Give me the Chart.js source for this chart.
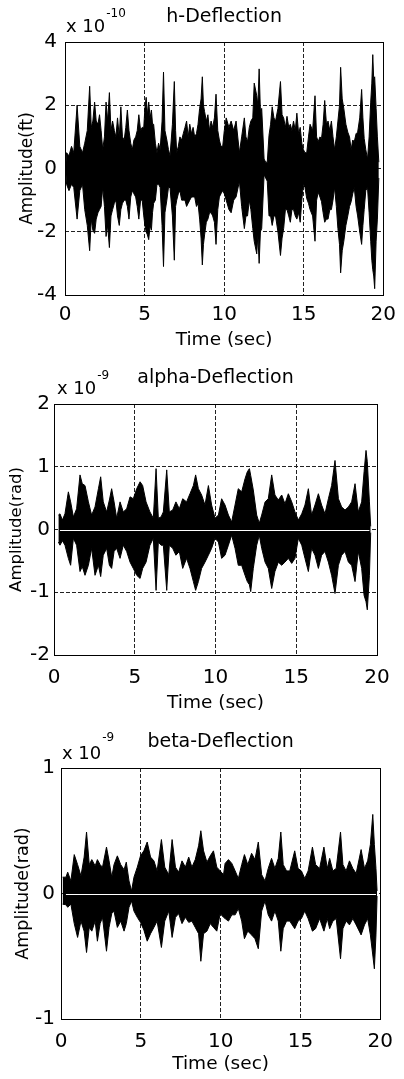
<!DOCTYPE html>
<html>
<head>
<meta charset="utf-8">
<script src="https://cdn.jsdelivr.net/npm/chart.js@4.4.1/dist/chart.umd.min.js"></script>
<style>
  html, body { margin: 0; padding: 0; background: #fff; }
  body { width: 404px; height: 1079px; position: relative; overflow: hidden; }
  canvas { position: absolute; left: 0; }
</style>
</head>
<body>
<canvas id="hChart" width="404" height="355" style="top:0px"></canvas>
<canvas id="alphaChart" width="404" height="360" style="top:355px"></canvas>
<canvas id="betaChart" width="404" height="364" style="top:715px"></canvas>
<script>
// Shared tick values
const xTicks = [0, 5, 10, 15, 20];
const hTicks = [-4, -2, 0, 2, 4];
const alphaTicks = [-2, -1, 0, 1, 2];
const betaTicks = [-1, 0, 1];

// h-Deflection envelope (x 1e-10 ft)
const hTime = [0.05, 0.10, 0.25, 0.41, 0.55, 0.76, 0.93, 1.10, 1.24, 1.40, 1.55, 1.65, 1.75, 1.86, 1.96, 2.07, 2.17, 2.27, 2.37, 2.48,
  2.58, 2.68, 2.79, 2.89, 2.99, 3.10, 3.20, 3.30, 3.41, 3.51, 3.61, 3.72, 3.82, 3.92, 4.02, 4.13, 4.23, 4.33, 4.44, 4.54,
  4.64, 4.75, 4.85, 4.95, 5.02, 5.10, 5.18, 5.26, 5.35, 5.43, 5.50, 5.57, 5.68, 5.78, 5.88, 5.98, 6.10, 6.19, 6.28, 6.40,
  6.50, 6.60, 6.75, 6.87, 6.95, 7.02, 7.12, 7.22, 7.33, 7.43, 7.54, 7.64, 7.74, 7.84, 7.95, 8.05, 8.15, 8.26, 8.36, 8.46,
  8.55, 8.63, 8.70, 8.77, 8.88, 8.98, 9.08, 9.18, 9.28, 9.39, 9.49, 9.60, 9.70, 9.80, 9.91, 10.01, 10.13, 10.30, 10.44, 10.60,
  10.75, 10.96, 11.10, 11.27, 11.37, 11.47, 11.58, 11.68, 11.80, 11.89, 12.05, 12.12, 12.20, 12.28, 12.36, 12.51, 12.61, 12.71, 12.82, 12.92,
  13.02, 13.13, 13.23, 13.38, 13.54, 13.64, 13.74, 13.85, 13.95, 14.06, 14.16, 14.26, 14.36, 14.47, 14.57, 14.68, 14.78, 14.88, 14.98, 15.08,
  15.19, 15.30, 15.40, 15.56, 15.71, 15.81, 15.91, 16.02, 16.12, 16.22, 16.32, 16.43, 16.53, 16.64, 16.74, 16.84, 16.94, 17.05, 17.15, 17.25,
  17.32, 17.42, 17.52, 17.65, 17.77, 17.88, 17.98, 18.08, 18.18, 18.29, 18.39, 18.52, 18.64, 18.72, 18.80, 18.90, 19.01, 19.11, 19.21, 19.28,
  19.34, 19.40, 19.46, 19.55, 19.63, 19.72];
const hUpper = [0.1, 0.5, 0.4, 0.7, 0.5, 2.0, 0.7, 0.5, 0.8, 1.2, 2.6, 1.3, 1.5, 2.1, 1.5, 1.4, 1.7, 1.2, 0.6, 1.0,
  2.1, 1.5, 2.4, 1.2, 1.5, 1.2, 1.0, 1.6, 1.0, 1.95, 1.0, 0.9, 1.3, 1.85, 1.2, 0.8, 0.6, 0.9, 1.0, 1.2,
  1.7, 1.2, 1.3, 1.3, 1.9, 2.25, 1.7, 2.1, 1.6, 1.85, 1.4, 1.4, 0.8, 0.5, 0.8, 0.6, 1.5, 3.05, 1.2, 0.9,
  0.6, 0.4, 1.4, 2.75, 1.2, 0.5, 0.7, 1.0, 0.9, 1.1, 1.3, 1.5, 1.0, 1.4, 1.1, 1.3, 1.0, 1.1, 1.4, 1.9,
  2.2, 2.9, 2.0, 1.8, 1.5, 1.7, 1.2, 1.5, 1.3, 1.6, 2.35, 1.2, 0.9, 0.7, 0.7, 1.2, 1.6, 1.3, 1.5, 1.2,
  1.5, 0.5, 1.0, 1.6, 1.0, 0.85, 1.3, 1.5, 1.6, 2.7, 2.3, 2.0, 3.15, 1.8, 1.9, 0.3, 0.2, 0.2, 1.05, 1.4,
  1.95, 1.6, 1.5, 1.9, 2.75, 1.7, 1.6, 1.3, 1.65, 1.3, 1.4, 1.2, 1.5, 1.2, 1.75, 1.1, 1.3, 0.8, 0.6, 0.5,
  0.5, 1.0, 1.4, 1.2, 2.3, 1.0, 0.85, 1.0, 0.95, 1.4, 2.15, 1.4, 1.5, 1.2, 1.5, 1.0, 0.6, 1.0, 1.5, 2.0,
  3.2, 2.2, 1.9, 1.4, 1.15, 1.0, 0.6, 0.9, 0.85, 1.1, 1.15, 1.6, 2.5, 1.6, 0.95, 0.6, 0.3, 1.0, 2.1, 2.7,
  3.6, 2.8, 2.9, 1.9, 1.0, 0.2];
const hLower = [-0.1, -0.5, -0.7, -0.5, -0.6, -1.6, -0.7, -0.5, -1.3, -1.8, -2.6, -1.6, -1.95, -2.05, -1.6, -1.4, -1.3, -1.2, -0.6, -1.2,
  -2.15, -1.8, -2.5, -1.5, -1.3, -1.1, -1.0, -1.5, -1.8, -1.3, -1.1, -1.0, -1.0, -1.2, -1.6, -0.9, -0.7, -0.8, -0.9, -1.2,
  -1.6, -1.0, -1.0, -1.5, -1.8, -2.0, -2.1, -2.25, -1.8, -1.95, -1.4, -1.1, -1.0, -0.5, -0.5, -0.6, -1.8, -3.1, -1.4, -1.0,
  -0.6, -0.6, -1.5, -2.9, -1.2, -1.0, -0.8, -0.7, -1.0, -1.0, -1.0, -1.2, -1.1, -1.0, -0.9, -0.9, -0.9, -1.2, -1.1, -1.6,
  -2.2, -3.05, -2.4, -2.1, -1.7, -1.6, -1.4, -1.4, -1.5, -1.7, -2.4, -1.3, -0.9, -0.8, -0.7, -0.8, -1.0, -1.3, -1.4, -1.0,
  -0.9, -0.4, -1.2, -1.9, -1.5, -1.5, -1.0, -1.3, -1.9, -2.3, -2.7, -2.1, -3.0, -2.0, -1.9, -0.2, -0.3, -0.4, -1.5, -1.5,
  -1.8, -1.5, -1.5, -2.0, -2.75, -2.2, -1.9, -1.3, -1.3, -1.5, -1.7, -1.3, -1.3, -1.5, -1.6, -1.4, -1.7, -1.0, -0.5, -0.6,
  -0.95, -1.1, -1.3, -1.5, -2.3, -1.0, -0.75, -0.9, -1.05, -1.4, -1.7, -1.6, -1.6, -1.3, -1.3, -1.0, -0.6, -1.2, -1.9, -2.4,
  -3.3, -2.6, -2.3, -1.8, -1.5, -1.2, -1.05, -0.8, -0.6, -1.2, -1.5, -2.0, -2.4, -1.8, -1.3, -0.7, -0.6, -1.4, -2.3, -2.9,
  -3.2, -3.4, -3.8, -2.3, -1.6, -0.3];

// alpha-Deflection envelope (x 1e-9 rad)
const alphaTime = [0.27, 0.37, 0.52, 0.68, 0.89, 1.03, 1.20, 1.40, 1.61, 1.75, 1.92, 2.13, 2.33, 2.54, 2.75, 2.89, 3.05, 3.26, 3.43, 3.57,
  3.72, 3.88, 4.09, 4.29, 4.50, 4.71, 4.91, 5.12, 5.33, 5.49, 5.70, 5.94, 6.15, 6.32, 6.46, 6.63, 6.77, 6.98, 7.14, 7.35,
  7.55, 7.76, 7.97, 8.21, 8.42, 8.63, 8.77, 8.94, 9.14, 9.35, 9.56, 9.76, 9.97, 10.18, 10.38, 10.59, 10.80, 11.00, 11.21, 11.41,
  11.62, 11.83, 11.97, 12.10, 12.18, 12.34, 12.55, 12.71, 12.86, 13.07, 13.27, 13.48, 13.68, 13.89, 14.10, 14.30, 14.51, 14.72, 14.92, 15.13,
  15.34, 15.54, 15.75, 15.95, 16.16, 16.37, 16.57, 16.78, 16.99, 17.19, 17.40, 17.61, 17.81, 18.02, 18.23, 18.43, 18.64, 18.84, 19.05, 19.20,
  19.32, 19.40, 19.53, 19.61];
const alphaUpper = [0.23, 0.25, 0.15, 0.25, 0.60, 0.44, 0.20, 0.33, 0.87, 0.73, 0.70, 0.44, 0.23, 0.36, 0.65, 0.84, 0.44, 0.28, 0.47, 0.65,
  0.44, 0.18, 0.44, 0.28, 0.33, 0.52, 0.49, 0.65, 0.76, 0.70, 0.44, 0.28, 0.18, 0.97, 0.18, 0.20, 0.28, 0.95, 0.28, 0.31,
  0.44, 0.33, 0.49, 0.44, 0.57, 0.70, 0.87, 0.65, 0.55, 0.39, 0.70, 0.39, 0.18, 0.23, 0.49, 0.39, 0.23, 0.12, 0.39, 0.65,
  0.60, 0.81, 0.92, 0.97, 0.86, 0.63, 0.23, 0.10, 0.23, 0.44, 0.49, 0.87, 0.55, 0.47, 0.55, 0.41, 0.57, 0.44, 0.28, 0.15,
  0.25, 0.39, 0.65, 0.23, 0.39, 0.57, 0.39, 0.25, 0.49, 0.70, 1.10, 0.49, 0.36, 0.31, 0.36, 0.44, 0.73, 0.28, 0.44, 0.92,
  1.26, 1.08, 0.44, 0.05];
const alphaLower = [-0.20, -0.25, -0.18, -0.25, -0.46, -0.57, -0.14, -0.25, -0.67, -0.59, -0.73, -0.57, -0.30, -0.73, -0.57, -0.75, -0.41, -0.30, -0.57, -0.62,
  -0.35, -0.30, -0.46, -0.25, -0.35, -0.52, -0.62, -0.73, -0.78, -0.62, -0.52, -0.25, -0.14, -0.97, -0.20, -0.25, -0.25, -0.97, -0.25, -0.30,
  -0.41, -0.35, -0.62, -0.46, -0.62, -0.83, -0.97, -0.83, -0.62, -0.52, -0.41, -0.30, -0.14, -0.20, -0.46, -0.41, -0.25, -0.09, -0.30, -0.57,
  -0.57, -0.73, -0.83, -0.88, -0.99, -0.62, -0.25, -0.09, -0.30, -0.52, -0.62, -0.94, -0.67, -0.52, -0.57, -0.52, -0.46, -0.54, -0.46, -0.14,
  -0.25, -0.46, -0.67, -0.30, -0.41, -0.62, -0.41, -0.35, -0.52, -0.73, -1.02, -0.57, -0.41, -0.35, -0.52, -0.57, -0.83, -0.35, -0.62, -1.05,
  -1.15, -1.28, -0.73, -0.05];

// beta-Deflection envelope (x 1e-9 rad)
const betaTime = [0.10, 0.31, 0.42, 0.62, 0.83, 1.04, 1.25, 1.45, 1.60, 1.77, 1.93, 2.14, 2.28, 2.45, 2.60, 2.85, 3.01, 3.18, 3.32, 3.53,
  3.74, 3.95, 4.09, 4.26, 4.42, 4.57, 4.78, 4.98, 5.19, 5.40, 5.61, 5.82, 6.02, 6.29, 6.50, 6.75, 6.96, 7.17, 7.37, 7.58,
  7.79, 8.00, 8.20, 8.41, 8.62, 8.76, 8.93, 9.14, 9.35, 9.55, 9.76, 9.97, 10.18, 10.28, 10.49, 10.70, 10.91, 11.11, 11.32, 11.49,
  11.70, 11.94, 12.15, 12.36, 12.57, 12.78, 12.98, 13.19, 13.40, 13.61, 13.77, 13.92, 14.13, 14.33, 14.64, 14.85, 15.06, 15.27, 15.48, 15.75,
  15.95, 16.20, 16.47, 16.68, 16.83, 17.03, 17.24, 17.51, 17.66, 17.86, 18.07, 18.28, 18.49, 18.80, 19.01, 19.21, 19.38, 19.53, 19.63, 19.73,
  19.80];
const betaUpper = [0.13, 0.13, 0.17, 0.10, 0.31, 0.23, 0.14, 0.29, 0.49, 0.23, 0.27, 0.22, 0.27, 0.23, 0.21, 0.37, 0.26, 0.13, 0.23, 0.30,
  0.23, 0.19, 0.25, 0.10, 0.02, 0.13, 0.21, 0.30, 0.34, 0.41, 0.29, 0.26, 0.18, 0.43, 0.21, 0.15, 0.43, 0.21, 0.17, 0.26,
  0.21, 0.29, 0.21, 0.27, 0.38, 0.50, 0.34, 0.25, 0.30, 0.34, 0.21, 0.18, 0.15, 0.24, 0.27, 0.24, 0.18, 0.12, 0.23, 0.31,
  0.23, 0.32, 0.27, 0.41, 0.15, 0.10, 0.20, 0.28, 0.20, 0.28, 0.49, 0.23, 0.18, 0.18, 0.34, 0.20, 0.18, 0.12, 0.18, 0.37,
  0.23, 0.20, 0.37, 0.20, 0.28, 0.18, 0.20, 0.49, 0.23, 0.18, 0.26, 0.20, 0.16, 0.35, 0.20, 0.26, 0.39, 0.63, 0.39, 0.20,
  0.02];
const betaLower = [-0.085, -0.09, -0.11, -0.085, -0.24, -0.35, -0.22, -0.30, -0.47, -0.27, -0.30, -0.22, -0.38, -0.24, -0.19, -0.46, -0.27, -0.16, -0.14, -0.27,
  -0.22, -0.30, -0.24, -0.11, -0.06, -0.14, -0.19, -0.23, -0.29, -0.38, -0.32, -0.27, -0.22, -0.43, -0.22, -0.14, -0.35, -0.19, -0.16, -0.24,
  -0.19, -0.23, -0.22, -0.27, -0.32, -0.54, -0.32, -0.30, -0.24, -0.27, -0.30, -0.16, -0.19, -0.20, -0.22, -0.17, -0.17, -0.12, -0.22, -0.36,
  -0.30, -0.33, -0.36, -0.44, -0.14, -0.06, -0.17, -0.22, -0.14, -0.22, -0.46, -0.28, -0.22, -0.22, -0.28, -0.22, -0.20, -0.14, -0.20, -0.30,
  -0.28, -0.20, -0.30, -0.20, -0.28, -0.22, -0.20, -0.52, -0.28, -0.22, -0.25, -0.20, -0.25, -0.33, -0.25, -0.20, -0.33, -0.49, -0.60, -0.33,
  -0.02];

const FONT = '"DejaVu Sans", "Liberation Sans", sans-serif';

// Solid box round the plot area, like a MATLAB axes
const framePlugin = {
    id: 'frame',
    afterDatasetsDraw(chart) {
        const { ctx, chartArea: a } = chart;
        ctx.save();
        ctx.strokeStyle = '#000';
        ctx.lineWidth = 1;
        ctx.strokeRect(Math.round(a.left) + 0.5, Math.round(a.top) + 0.5,
            Math.round(a.right - a.left), Math.round(a.bottom - a.top));
        ctx.restore();
    }
};

// White trace along zero (visible in the alpha / beta plots)
const zeroLinePlugin = {
    id: 'zeroLine',
    afterDatasetsDraw(chart, args, opts) {
        if (!opts.display) return;
        const { ctx, scales: { x, y } } = chart;
        const pts = chart.data.datasets[0].data;
        const py = Math.round(y.getPixelForValue(0)) + 0.5;
        ctx.save();
        ctx.strokeStyle = '#fff';
        ctx.lineWidth = 1;
        ctx.beginPath();
        ctx.moveTo(x.getPixelForValue(pts[1].x), py);
        ctx.lineTo(x.getPixelForValue(pts[pts.length - 2].x), py);
        ctx.stroke();
        ctx.restore();
    }
};

// "x 10^n" exponent label over the top-left corner
const exponentPlugin = {
    id: 'exponent',
    afterDraw(chart, args, opts) {
        const { ctx, chartArea: a } = chart;
        ctx.save();
        ctx.fillStyle = '#000';
        ctx.textBaseline = 'middle';
        ctx.textAlign = 'left';
        ctx.font = '18px ' + FONT;
        const x0 = a.left + opts.dx;
        ctx.fillText('x 10', x0, a.top + opts.dyMain);
        const w = ctx.measureText('x 10').width;
        ctx.font = '12px ' + FONT;
        ctx.fillText(opts.power, x0 + w + 1, a.top + opts.dySup);
        ctx.restore();
    }
};

function buildChart(canvasId, s) {
    const toPoints = (ys) => s.time.map((t, i) => ({ x: t, y: ys[i] }));
    return new Chart(document.getElementById(canvasId), {
        type: 'line',
        data: {
            datasets: [
                {
                    data: toPoints(s.upper),
                    borderColor: '#000',
                    backgroundColor: '#000',
                    borderWidth: 1,
                    pointRadius: 0,
                    tension: 0,
                    fill: '+1'
                },
                {
                    data: toPoints(s.lower),
                    borderColor: '#000',
                    borderWidth: 1,
                    pointRadius: 0,
                    tension: 0,
                    fill: false
                }
            ]
        },
        options: {
            responsive: false,
            animation: false,
            events: [],
            layout: { padding: { left: 0, right: s.padRight, top: 0, bottom: 0 } },
            plugins: {
                legend: { display: false },
                tooltip: { enabled: false },
                title: {
                    display: true,
                    text: s.title,
                    fullSize: false,
                    color: '#000',
                    font: { family: FONT, size: 19, weight: 'normal' },
                    padding: { top: s.titlePad[0], bottom: s.titlePad[1] }
                },
                zeroLine: { display: s.zeroLine },
                exponent: s.exponent
            },
            scales: {
                x: {
                    type: 'linear',
                    min: 0,
                    max: 20,
                    afterBuildTicks: (sc) => { sc.ticks = xTicks.map(v => ({ value: v })); },
                    afterFit: (sc) => { sc.height = s.xHeight; },
                    grid: { color: '#222', lineWidth: 1, drawTicks: false },
                    border: { display: false, dash: [4, 2] },
                    ticks: { color: '#000', padding: s.xTickPad, maxRotation: 0, font: { family: FONT, size: 20 } },
                    title: {
                        display: true,
                        text: 'Time (sec)',
                        color: '#000',
                        font: { family: FONT, size: 18.5 },
                        padding: { top: 0, bottom: s.xTitlePad }
                    }
                },
                y: {
                    type: 'linear',
                    min: s.yTicks[0],
                    max: s.yTicks[s.yTicks.length - 1],
                    afterBuildTicks: (sc) => { sc.ticks = s.yTicks.map(v => ({ value: v })); },
                    afterFit: (sc) => { sc.width = s.yWidth; },
                    grid: { color: '#222', lineWidth: 1, drawTicks: false },
                    border: { display: false, dash: [4, 2] },
                    ticks: { color: '#000', padding: s.yTickPad, font: { family: FONT, size: 20 } },
                    title: {
                        display: true,
                        text: s.yLabel,
                        color: '#000',
                        font: { family: FONT, size: s.yLabelSize },
                        padding: { top: s.yTitlePad, bottom: 0 }
                    }
                }
            }
        },
        plugins: [framePlugin, zeroLinePlugin, exponentPlugin]
    });
}

buildChart('hChart', {
    time: hTime, upper: hUpper, lower: hLower, yTicks: hTicks,
    title: 'h-Deflection', yLabel: 'Amplitude(ft)', yLabelSize: 17,
    padRight: 16, titlePad: [5.6, 13.6], xHeight: 60, xTickPad: 8, xTitlePad: 3.9,
    yWidth: 65, yTickPad: 8, yTitlePad: 17.8, zeroLine: false,
    exponent: { power: '-10', dx: 1, dyMain: -14.5, dySup: -28 }
});

buildChart('alphaChart', {
    time: alphaTime, upper: alphaUpper, lower: alphaLower, yTicks: alphaTicks,
    title: 'alpha-Deflection', yLabel: 'Amplitude(rad)', yLabelSize: 16.5,
    padRight: 27, titlePad: [11.6, 14.6], xHeight: 60, xTickPad: 11, xTitlePad: 0.9,
    yWidth: 54, yTickPad: 4, yTitlePad: 7.1, zeroLine: true,
    exponent: { power: '-9', dx: 3, dyMain: -15, dySup: -28 }
});

buildChart('betaChart', {
    time: betaTime, upper: betaUpper, lower: betaLower, yTicks: betaTicks,
    title: 'beta-Deflection', yLabel: 'Amplitude(rad)', yLabelSize: 17.5,
    padRight: 22, titlePad: [15.6, 14.6], xHeight: 60, xTickPad: 11, xTitlePad: 3.9,
    yWidth: 61, yTickPad: 6, yTitlePad: 12.5, zeroLine: true,
    exponent: { power: '-9', dx: 1, dyMain: -14, dySup: -30 }
});
</script>
</body>
</html>
